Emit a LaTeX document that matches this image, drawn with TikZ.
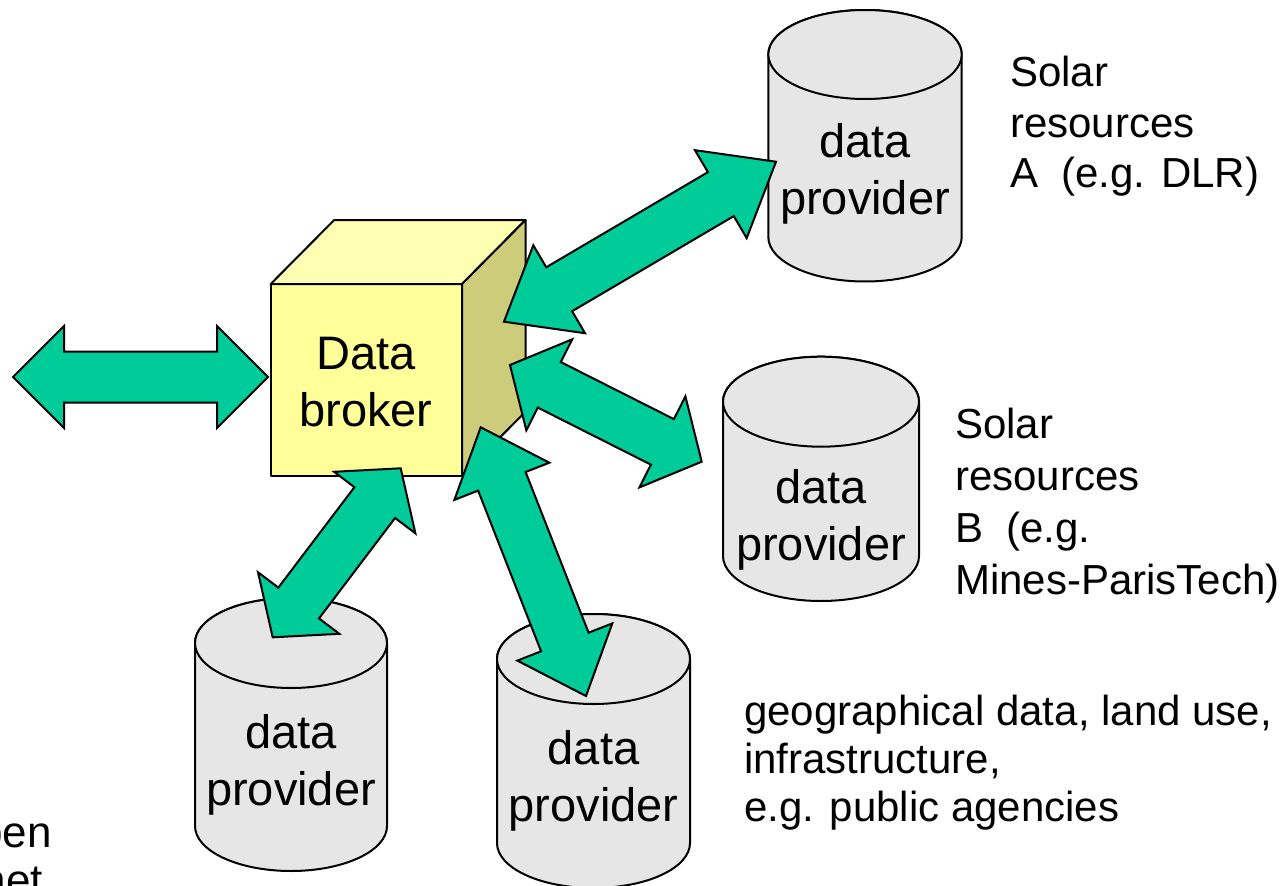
\documentclass[tikz,border=0pt]{standalone}
\usepackage{fontspec}
\setmainfont{Liberation Sans}
\usetikzlibrary{calc}

\definecolor{flowgreen}{RGB}{0,204,153}
\definecolor{cubefront}{RGB}{255,255,153}
\definecolor{cubetop}{RGB}{255,255,179}
\definecolor{cubeside}{RGB}{204,204,122}
\definecolor{dbfill}{RGB}{230,230,230}

% half widths of the block arrows
\newcommand\shafthw{25.5pt}
\newcommand\headhw{51pt}

% double-headed block arrow between two named points, #3 = head length
\newcommand\flowarrow[3]{%
  \draw[flow] (#1)
   -- ($(#1)!#3!(#2)!\headhw!90:(#2)$)
   -- ($(#1)!#3!(#2)!\shafthw!90:(#2)$)
   -- ($(#2)!#3!(#1)!\shafthw!-90:(#1)$)
   -- ($(#2)!#3!(#1)!\headhw!-90:(#1)$)
   -- (#2)
   -- ($(#2)!#3!(#1)!\headhw!90:(#1)$)
   -- ($(#2)!#3!(#1)!\shafthw!90:(#1)$)
   -- ($(#1)!#3!(#2)!\shafthw!-90:(#2)$)
   -- ($(#1)!#3!(#2)!\headhw!-90:(#2)$)
   -- cycle;}

% database cylinder: cx, y of top ellipse, y of bottom ellipse, rx, ry
\newcommand\database[5]{%
  \filldraw[db] ({#1-#4},#2) -- ({#1-#4},#3)
    arc[start angle=180,end angle=360,x radius=#4pt,y radius=#5pt]
    -- ({#1+#4},#2)
    arc[start angle=0,end angle=180,x radius=#4pt,y radius=#5pt] -- cycle;
  \draw[db] (#1,#2) ellipse[x radius=#4pt,y radius=#5pt];}

\tikzset{
  flow/.style={draw=black, line width=2pt, fill=flowgreen},
  db/.style={draw=black, line width=2pt, fill=dbfill},
  cubeface/.style={draw=black, line width=2pt, line join=round},
  dbtext/.style={inner sep=0pt, align=center, anchor=base,
    font=\fontsize{47}{57}\selectfont},
  note/.style={inner sep=0pt, align=left, anchor=base west},
}

\begin{document}
\begin{tikzpicture}[x=1pt,y=-1pt]
\useasboundingbox (0,0) rectangle (1286,886);
\clip (0,0) rectangle (1286,886);

% data broker cube
\coordinate (fa) at (270.7,284);
\coordinate (fc) at (462,475.7);
\filldraw[cubeface, fill=cubefront] (fa) rectangle (fc);
\filldraw[cubeface, fill=cubetop] (270.7,284) -- (334.2,220) -- (525.5,220) -- (462,284) -- cycle;
\filldraw[cubeface, fill=cubeside] (462,284) -- (525.5,220) -- (525.5,411.7) -- (462,475.7) -- cycle;
% (anchor base sits on the last line)
\node[dbtext] (broker) at (366,426) {Data\\broker};

% data providers
\database{865}{54.5}{237}{96.7}{44.5}
\node[dbtext] (provA) at (865,214) {data\\provider};
\database{821}{401.7}{556}{98}{45}
\node[dbtext] (provB) at (821,560.5) {data\\provider};
\database{291}{643}{826}{96}{45}
\node[dbtext] (provC) at (291,805) {data\\provider};
\database{593.5}{659}{843}{96.5}{45}
\node[dbtext] (provD) at (593.5,821) {data\\provider};

% arrow end points
\coordinate (userL) at (13,377);
\coordinate (brokerL) at (268,377);
\coordinate (brokerA) at (504,321.7);
\coordinate (inA) at (776,161.7);
\coordinate (brokerB) at (510,365);
\coordinate (inB) at (701.7,461.7);
\coordinate (brokerC) at (400.7,468.3);
\coordinate (inC) at (272.7,637.3);
\coordinate (brokerD) at (480.7,427.3);
\coordinate (inD) at (586,696);

\flowarrow{userL}{brokerL}{51pt}
\flowarrow{brokerA}{inA}{64pt}
\flowarrow{brokerB}{inB}{44pt}
\flowarrow{brokerC}{inC}{43pt}
\flowarrow{brokerD}{inD}{58pt}

% descriptions
\node[note, font=\fontsize{42}{50.5}\selectfont] (descA) at (1010,187.5)
  {Solar\\resources\\A~~(e.g. DLR)};
\node[note, font=\fontsize{42}{52}\selectfont] (descB) at (955,594)
  {Solar\\resources\\B~~(e.g.\\Mines-ParisTech)};
\node[note, font=\fontsize{42}{48}\selectfont] (descC) at (744,821)
  {geographical data, land use,\\infrastructure,\\e.g. public agencies};
\node[inner sep=0pt, align=right, anchor=base east,
  font=\fontsize{44}{48}\selectfont] (net) at (52,895)
  {open\\Internet\hspace*{9pt}};
\end{tikzpicture}
\end{document}
